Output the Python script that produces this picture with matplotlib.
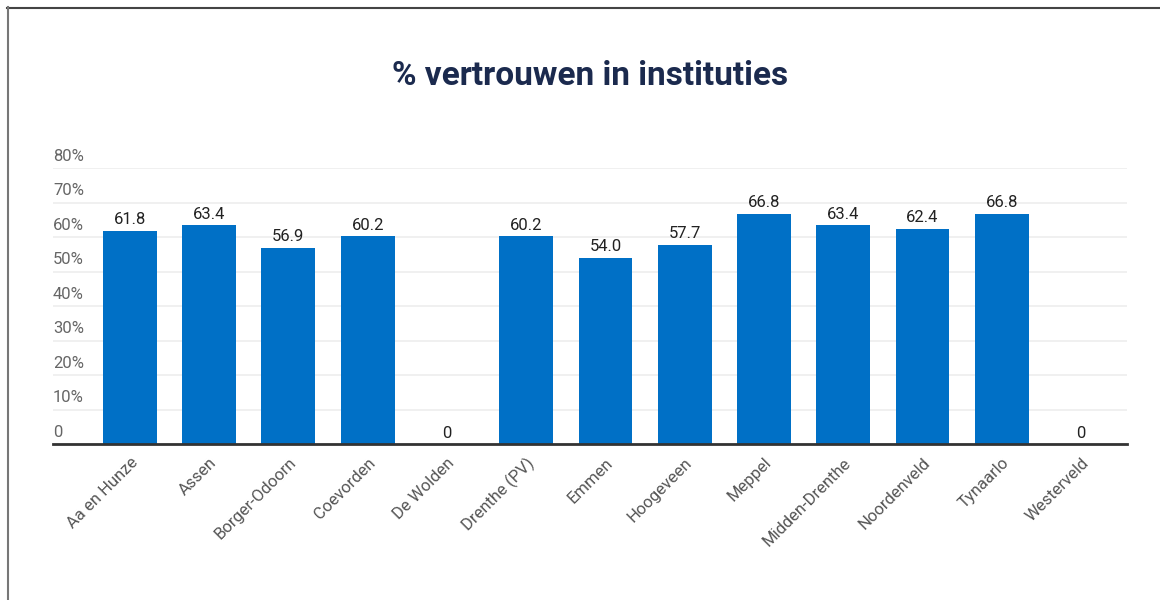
import numpy as np
import matplotlib.pyplot as plt
from matplotlib.lines import Line2D
from matplotlib.transforms import blended_transform_factory

# data
gemeenten = ['Aa en Hunze', 'Assen', 'Borger-Odoorn', 'Coevorden', 'De Wolden',
             'Drenthe (PV)', 'Emmen', 'Hoogeveen', 'Meppel', 'Midden-Drenthe',
             'Noordenveld', 'Tynaarlo', 'Westerveld']
vertrouwen = [61.8, 63.4, 56.9, 60.2, 0, 60.2, 54.0, 57.7, 66.8, 63.4, 62.4, 66.8, 0]
y_ticks = [0, 10, 20, 30, 40, 50, 60, 70, 80]
y_labels = ['0', '10%', '20%', '30%', '40%', '50%', '60%', '70%', '80%']

plt.rcParams['font.family'] = ['Roboto', 'DejaVu Sans']

fig = plt.figure(figsize=(11.6, 6), dpi=100)
W, H = 1160, 600
ax = fig.add_axes([53 / W, 1 - 444 / H, (1127 - 53) / W, (444 - 168) / H])

x = np.arange(len(gemeenten))
ax.bar(x, vertrouwen, width=0.68, color='#0070c6', zorder=2)

for xi, v in zip(x, vertrouwen):
    txt = '0' if v == 0 else f'{v:.1f}'
    ax.text(xi, v + 1.0, txt, ha='center', va='bottom', fontsize=12, color='#222222')

ax.set_xlim(-0.97, len(gemeenten) - 0.42)
ax.set_ylim(0, 80)

# gridlines and y labels sitting above them
ax.set_yticks(y_ticks)
ax.set_yticklabels([])
ax.tick_params(axis='y', length=0)
ax.grid(axis='y', color='#eeeeee', linewidth=1.2, zorder=0)
trans = blended_transform_factory(ax.transAxes, ax.transData)
for t, lab in zip(y_ticks, y_labels):
    ax.text(0, t + 1.3, lab, transform=trans, ha='left', va='bottom',
            fontsize=12, color='#666666')

ax.set_xticks(x)
ax.set_xticklabels(gemeenten, rotation=45, ha='right', rotation_mode='anchor',
                   fontsize=12, color='#555555')
ax.tick_params(axis='x', length=0, pad=8)

for s in ['top', 'right', 'left']:
    ax.spines[s].set_visible(False)
ax.spines['bottom'].set_color('#333333')
ax.spines['bottom'].set_linewidth(2)
ax.spines['bottom'].set_zorder(3)

fig.text(590 / W, 1 - 76 / H, '% vertrouwen in instituties', ha='center', va='center',
         fontsize=24, fontweight='bold', color='#1b2a4e')

# frame of the screenshot
fig.add_artist(Line2D([7 / W, 1], [1 - 7.5 / H, 1 - 7.5 / H], color='#444444', linewidth=1.5))
fig.add_artist(Line2D([7.5 / W, 7.5 / W], [0, 1 - 7 / H], color='#777777', linewidth=1.5))

fig.savefig('out.png', dpi=100)
